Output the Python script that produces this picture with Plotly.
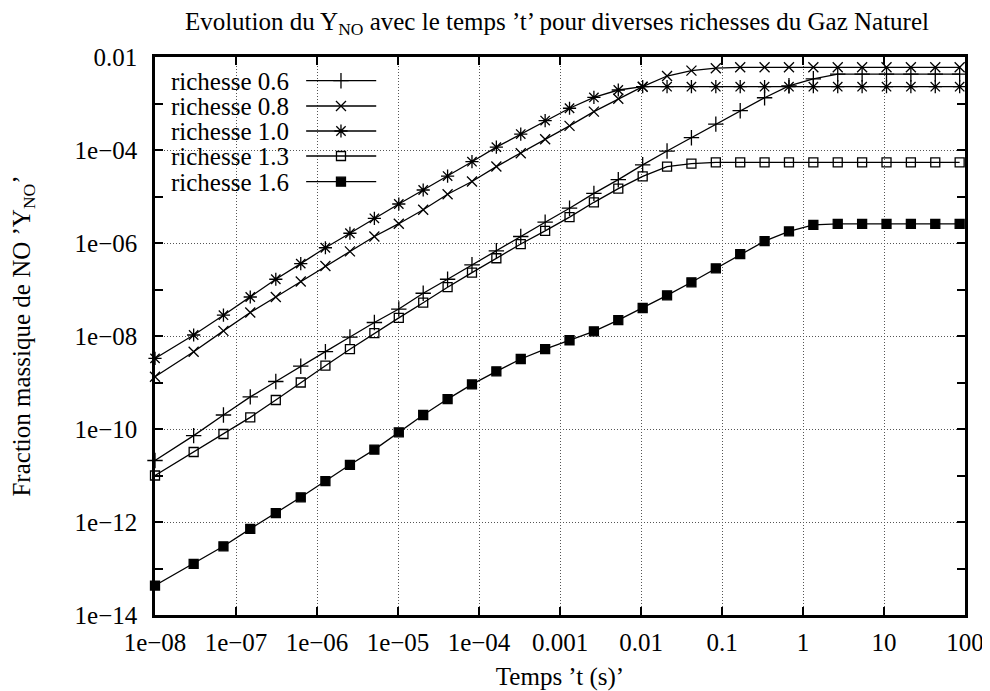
import plotly.graph_objects as go

# time points (s)
temps = [1.0e-8, 3.0e-8, 7.0e-8, 1.5e-7, 3.1e-7, 6.3e-7, 1.27e-6, 2.55e-6, 5.11e-6,
         1.023e-5, 2.047e-5, 4.095e-5, 8.191e-5, 1.638e-4, 3.277e-4, 6.554e-4,
         1.311e-3, 2.621e-3, 5.243e-3, 1.049e-2, 2.097e-2, 4.194e-2, 8.389e-2,
         0.1678, 0.3355, 0.6711, 1.342, 2.684, 5.369, 10.74, 21.47, 42.95, 85.90]

y_r06 = [2.1e-11, 7.2e-11, 2.0e-10, 4.9e-10, 1.05e-9, 2.24e-9, 4.6e-9, 9.5e-9, 1.95e-8,
         3.8e-8, 8.3e-8, 1.66e-7, 3.4e-7, 6.8e-7, 1.38e-6, 2.8e-6, 5.6e-6, 1.17e-5,
         2.3e-5, 4.8e-5, 9.5e-5, 1.84e-4, 3.6e-4, 7.0e-4, 1.33e-3, 2.4e-3, 3.4e-3,
         4.3e-3, 4.3e-3, 4.3e-3, 4.3e-3, 4.3e-3, 4.3e-3]

y_r08 = [1.33e-9, 4.6e-9, 1.29e-8, 3.2e-8, 6.9e-8, 1.48e-7, 3.2e-7, 6.6e-7, 1.38e-6,
         2.6e-6, 5.2e-6, 1.12e-5, 2.1e-5, 4.4e-5, 8.5e-5, 1.7e-4, 3.3e-4, 6.7e-4,
         1.26e-3, 2.3e-3, 3.9e-3, 5.1e-3, 5.75e-3, 6.0e-3, 6.0e-3, 6.0e-3, 6.0e-3,
         6.0e-3, 6.0e-3, 6.0e-3, 6.0e-3, 6.0e-3, 6.0e-3]

y_r10 = [3.3e-9, 1.05e-8, 2.8e-8, 6.9e-8, 1.66e-7, 3.6e-7, 7.9e-7, 1.62e-6, 3.4e-6,
         6.9e-6, 1.38e-5, 2.75e-5, 5.6e-5, 1.15e-4, 2.2e-4, 4.3e-4, 7.9e-4, 1.35e-3,
         1.95e-3, 2.3e-3, 2.3e-3, 2.3e-3, 2.3e-3, 2.3e-3, 2.3e-3, 2.3e-3, 2.3e-3,
         2.3e-3, 2.3e-3, 2.3e-3, 2.3e-3, 2.3e-3, 2.3e-3]

y_r13 = [1.0e-11, 3.2e-11, 7.8e-11, 1.78e-10, 4.2e-10, 1.0e-9, 2.3e-9, 5.2e-9, 1.15e-8,
         2.45e-8, 5.2e-8, 1.12e-7, 2.3e-7, 4.7e-7, 9.5e-7, 1.82e-6, 3.6e-6, 7.5e-6,
         1.48e-5, 2.7e-5, 4.4e-5, 5.1e-5, 5.4e-5, 5.4e-5, 5.4e-5, 5.4e-5, 5.4e-5,
         5.4e-5, 5.4e-5, 5.4e-5, 5.4e-5, 5.4e-5, 5.4e-5]

y_r16 = [4.3e-14, 1.26e-13, 3.0e-13, 7.1e-13, 1.55e-12, 3.4e-12, 7.6e-12, 1.7e-11,
         3.6e-11, 8.5e-11, 2.0e-10, 4.4e-10, 9.1e-10, 1.74e-9, 3.2e-9, 5.2e-9, 8.1e-9,
         1.26e-8, 2.2e-8, 4.0e-8, 7.5e-8, 1.43e-7, 2.85e-7, 5.75e-7, 1.10e-6, 1.78e-6,
         2.45e-6, 2.57e-6, 2.57e-6, 2.57e-6, 2.57e-6, 2.57e-6, 2.57e-6]

series_names = ["richesse 0.6", "richesse 0.8", "richesse 1.0", "richesse 1.3", "richesse 1.6"]
series_values = [y_r06, y_r08, y_r10, y_r13, y_r16]
symbols = ["cross-thin-open", "x-thin-open", "asterisk-open", "square-open", "square"]
sizes = [11, 10, 11, 9, 9]

x_tickvals = [1e-8, 1e-7, 1e-6, 1e-5, 1e-4, 1e-3, 1e-2, 1e-1, 1, 10, 100]
x_ticktext = ["1e\u221208", "1e\u221207", "1e\u221206", "1e\u221205", "1e\u221204",
              "0.001", "0.01", "0.1", "1", "10", "100"]
y_tickvals = [1e-14, 1e-12, 1e-10, 1e-8, 1e-6, 1e-4, 1e-2]
y_ticktext = ["1e\u221214", "1e\u221212", "1e\u221210", "1e\u221208", "1e\u221206",
              "1e\u221204", "0.01"]
y_minor = [1e-13, 1e-11, 1e-9, 1e-7, 1e-5, 1e-3]

FONT = "Liberation Serif, Times New Roman, serif"
FS = 25
SUB = "<sub>NO</sub>"

fig = go.Figure()
for name, vals, sym, sz in zip(series_names, series_values, symbols, sizes):
    fig.add_trace(go.Scatter(
        x=temps, y=vals, mode="lines+markers", name=name, showlegend=False,
        line=dict(color="black", width=1.3),
        marker=dict(symbol=sym, size=sz, color="black",
                    line=dict(color="black", width=1.3)),
        cliponaxis=False,
    ))

# gnuplot-style key: text on the left, line sample with point on the right
key_rows = [0.9575, 0.9122, 0.8674, 0.8226, 0.7765]
for name, sym, sz, yk in zip(series_names, symbols, sizes, key_rows):
    fig.add_trace(go.Scatter(
        x=[0.1866, 0.2731], y=[yk, yk], mode="lines", xaxis="x2", yaxis="y2",
        line=dict(color="black", width=1.3), showlegend=False, hoverinfo="skip"))
    fig.add_trace(go.Scatter(
        x=[0.2296], y=[yk], mode="markers", xaxis="x2", yaxis="y2",
        marker=dict(symbol=sym, size=sz, color="black",
                    line=dict(color="black", width=1.3)),
        showlegend=False, hoverinfo="skip"))
    fig.add_annotation(x=0.1667, y=yk, xref="paper", yref="paper", text=name,
                       showarrow=False, xanchor="right", yanchor="middle",
                       height=24, borderpad=0,
                       font=dict(family=FONT, size=FS, color="black"))

axis_common = dict(
    type="log", showline=True, linecolor="black", linewidth=2.5, mirror="ticks",
    ticks="inside", ticklen=8, tickwidth=2, tickcolor="black", automargin=False,
    showgrid=True, gridcolor="#555555", gridwidth=1, griddash="1px,2px",
    zeroline=False, tickfont=dict(family=FONT, size=FS, color="black"),
)

# the page body adds an 8px offset; the figure is sized to compensate
fig.update_layout(
    template="none",
    width=982, height=683,
    margin=dict(l=147, r=25, t=49, b=76, autoexpand=False),
    paper_bgcolor="white", plot_bgcolor="white",
    font=dict(family=FONT, size=FS, color="black"),
    title=dict(text="Evolution du Y" + SUB + " avec le temps \u2019t\u2019 pour diverses richesses du Gaz Naturel",
               x=0.559, xref="container", xanchor="center",
               y=0.994, yref="container", yanchor="top",
               font=dict(family=FONT, size=FS, color="black")),
    xaxis=dict(axis_common, range=[-8, 2], tickvals=x_tickvals, ticktext=x_ticktext,
               ticklabelstandoff=3,
               title=dict(text="Temps \u2019t (s)\u2019", standoff=14,
                          font=dict(family=FONT, size=FS, color="black"))),
    yaxis=dict(axis_common, range=[-14, -2], tickvals=y_tickvals, ticktext=y_ticktext,
               ticklabelstandoff=10,
               minor=dict(tickvals=y_minor, ticks="inside", ticklen=8, tickwidth=2,
                          tickcolor="black", showgrid=False),
               title=dict(text="Fraction massique de NO \u2019Y" + SUB + "\u2019", standoff=40,
                          font=dict(family=FONT, size=FS, color="black"))),
    xaxis2=dict(overlaying="x", range=[0, 1], visible=False, fixedrange=True),
    yaxis2=dict(overlaying="y", range=[0, 1], visible=False, fixedrange=True),
)

fig.write_html("out.html")
